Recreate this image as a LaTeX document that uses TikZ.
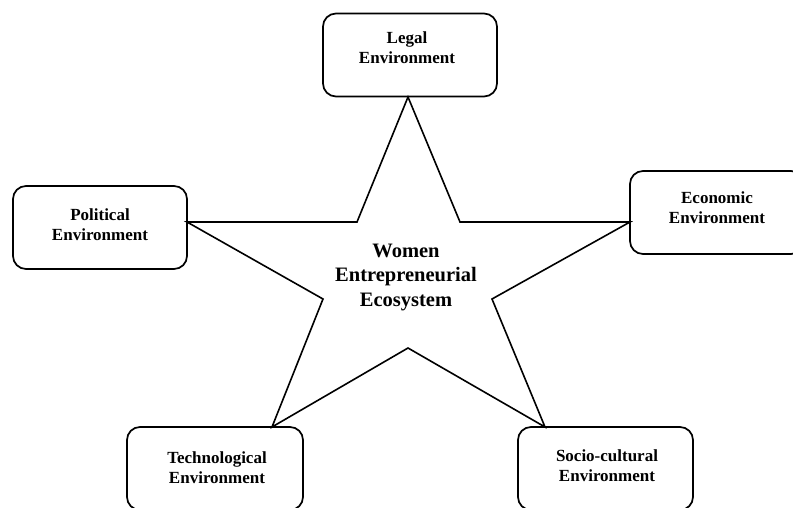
\documentclass[tikz,border=0pt]{standalone}
\usepackage{fontspec}
\setmainfont{Liberation Serif}
\begin{document}
\begin{tikzpicture}[x=1pt,y=-1pt,
  envbox/.style={draw, line width=1.7pt, rounded corners=13pt, minimum width=174pt, minimum height=83pt, inner sep=0pt},
  envtext/.style={font=\fontsize{17}{20}\selectfont\bfseries, align=center, inner sep=0pt},
  centertext/.style={font=\fontsize{20.5}{24.5}\selectfont\bfseries, align=center, inner sep=0pt},
  starline/.style={line width=1.6pt, line join=miter}]
\useasboundingbox (0,0) rectangle (793,508);
\clip (0,0) rectangle (793,508);
\fill[white] (0,0) rectangle (793,508);

% boxes
\node[envbox] (legal) at (410,55) {};
\node[envbox] (political) at (100,227.5) {};
\node[envbox] (economic) at (717,212.5) {};
\node[envbox, minimum width=176pt] (tech) at (215,468.5) {};
\node[envbox, minimum width=175pt] (socio) at (605.5,468.5) {};

% box texts
\node[envtext] (legalt) at (407,48) {Legal\\Environment};
\node[envtext] (politicalt) at (100,225) {Political\\Environment};
\node[envtext] (economict) at (717,207.5) {Economic\\Environment};
\node[envtext] (techt) at (217,467.5) {Technological\\Environment};
\node[envtext] (sociot) at (607,466) {Socio-cultural\\Environment};

% star vertices
\coordinate (sT) at (408,97);
\coordinate (iUR) at (460,222);
\coordinate (sR) at (630,222);
\coordinate (iLR) at (492,299);
\coordinate (sBR) at (545,427);
\coordinate (iB) at (408,348);
\coordinate (sBL) at (272,427);
\coordinate (iLL) at (323,299);
\coordinate (sL) at (187,222);
\coordinate (iUL) at (357,222);

\draw[starline] (sT) -- (iUR) -- (sR) -- (iLR) -- (sBR) -- (iB) -- (sBL) -- (iLL) -- (sL) -- (iUL) -- cycle;

\node[centertext] (core) at (406,277) {Women\\Entrepreneurial\\Ecosystem};
\end{tikzpicture}
\end{document}
